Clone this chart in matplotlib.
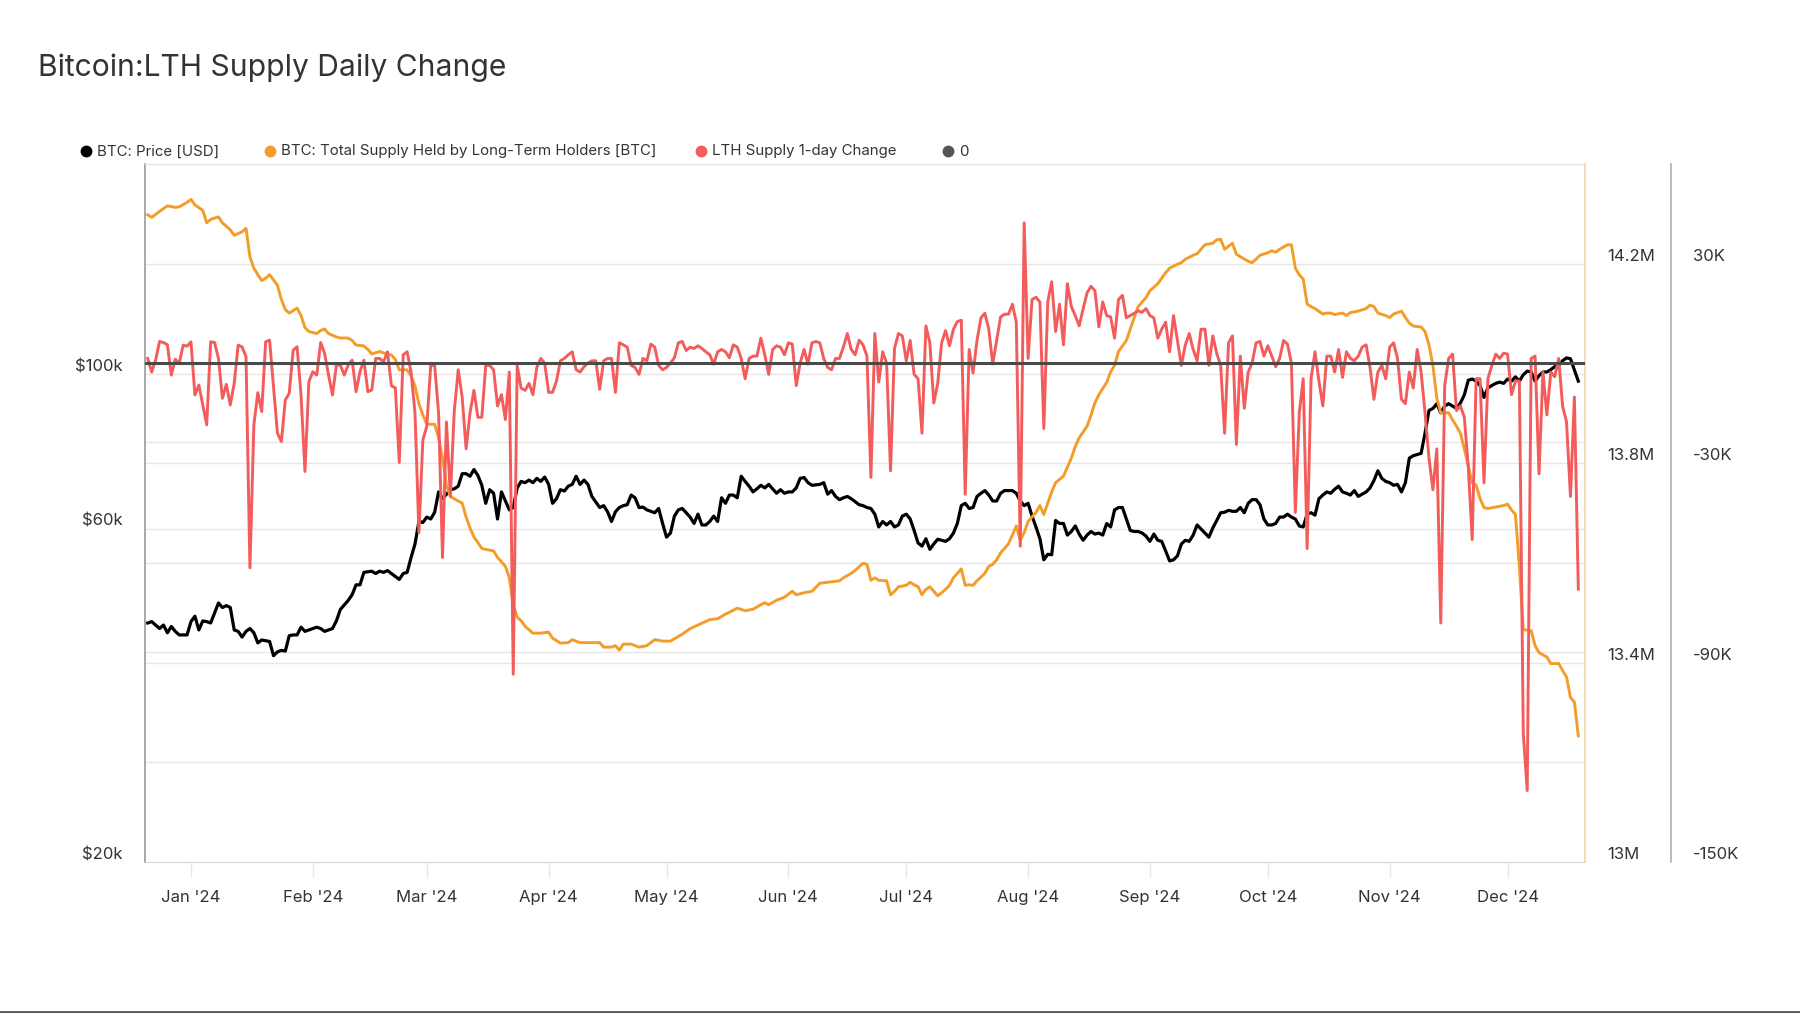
import numpy as np
import pandas as pd
import matplotlib
matplotlib.use("Agg")
import matplotlib.pyplot as plt
from matplotlib.lines import Line2D
from matplotlib import transforms
from matplotlib.ticker import FixedLocator, NullLocator

plt.rcParams['font.family'] = ['Inter', 'DejaVu Sans']

# ---------------- data ----------------
BASE = pd.Timestamp('2024-01-01')

title = "Bitcoin:LTH Supply Daily Change"
legend_labels = ["BTC: Price [USD]", "BTC: Total Supply Held by Long-Term Holders [BTC]",
                 "LTH Supply 1-day Change", "0"]

# BTC price (USD thousands), day offsets from 2024-01-01
price_day = [-11, -10, -9, -8, -7, -6, -5, -4, -3, -2, -1, 0, 1, 2, 3, 4, 5, 7, 8, 9, 10, 11, 12, 13, 14, 15,
             16, 17, 18, 20, 21, 22, 23, 24, 25, 26, 27, 28, 29, 31, 32, 33, 34, 36, 37, 38, 40, 41, 42, 43,
             44, 46, 47, 48, 49, 50, 51, 53, 54, 55, 56, 57, 58, 59, 60, 61, 62, 63, 64, 65, 66, 67, 68, 69,
             70, 71, 72, 73, 74, 75, 76, 77, 78, 79, 80, 81, 82, 83, 84, 85, 86, 87, 88, 89, 90, 91, 92, 93,
             94, 95, 96, 97, 98, 99, 100, 101, 102, 104, 105, 106, 107, 108, 109, 110, 111, 112, 113, 114,
             115, 116, 117, 118, 119, 120, 121, 122, 123, 124, 125, 126, 127, 128, 129, 130, 131, 132, 133,
             134, 135, 136, 137, 138, 139, 140, 141, 142, 143, 144, 145, 146, 147, 148, 149, 150, 151, 152,
             153, 154, 155, 156, 157, 158, 160, 161, 162, 163, 164, 165, 166, 167, 168, 170, 171, 172, 173,
             174, 175, 176, 177, 178, 179, 180, 181, 182, 183, 184, 185, 186, 187, 188, 189, 190, 191, 192,
             193, 194, 195, 196, 197, 198, 199, 200, 201, 202, 203, 204, 205, 206, 207, 208, 209, 210, 211,
             212, 213, 214, 215, 216, 217, 218, 219, 220, 221, 222, 223, 224, 225, 226, 227, 228, 229, 230,
             231, 232, 233, 234, 235, 236, 237, 238, 239, 240, 241, 242, 243, 244, 245, 246, 247, 248, 249,
             250, 251, 252, 253, 254, 255, 256, 257, 258, 259, 260, 261, 262, 263, 264, 265, 266, 267, 268,
             269, 270, 271, 272, 273, 274, 275, 276, 277, 278, 279, 280, 281, 282, 283, 284, 285, 286, 287,
             288, 289, 290, 291, 292, 293, 294, 295, 296, 297, 299, 300, 301, 302, 303, 304, 305, 306, 307,
             308, 309, 310, 311, 312, 313, 314, 315, 316, 317, 318, 319, 320, 321, 322, 323, 324, 325, 326,
             327, 328, 329, 330, 331, 332, 333, 334, 335, 336, 337, 338, 339, 340, 341, 342, 343, 344, 345,
             346, 347, 348, 349, 350, 351, 352, 353]
price_k = [44.0, 44.2, 43.7, 43.2, 43.7, 42.6, 43.5, 42.8, 42.3, 42.3, 42.3, 44.2, 45.0, 43.0, 44.3, 44.2, 44.0,
           47.0, 46.3, 46.6, 46.3, 43.0, 42.8, 42.0, 42.8, 43.2, 42.6, 41.2, 41.6, 41.4, 39.5, 40.0, 40.2,
           40.1, 42.2, 42.3, 42.3, 43.4, 42.8, 43.2, 43.4, 43.2, 42.8, 43.2, 44.3, 46.0, 47.4, 48.3, 49.9,
           49.9, 52.0, 52.2, 51.8, 52.2, 52.0, 52.3, 51.8, 50.8, 51.8, 52.0, 54.6, 57.1, 61.5, 61.3, 62.4,
           62.0, 63.4, 67.8, 66.3, 67.3, 68.3, 68.5, 69.1, 72.0, 72.0, 71.4, 73.0, 71.6, 69.3, 65.3, 68.3,
           67.5, 62.0, 67.8, 65.8, 63.9, 64.4, 68.7, 70.2, 69.9, 70.5, 69.9, 70.9, 70.2, 71.2, 69.5, 65.3,
           66.3, 68.3, 68.0, 69.1, 69.5, 71.4, 69.5, 70.5, 69.5, 66.8, 64.4, 64.8, 63.5, 61.5, 63.5, 64.4,
           64.8, 65.0, 67.1, 66.5, 64.4, 64.5, 63.9, 63.6, 63.3, 64.2, 61.1, 58.4, 59.2, 62.6, 63.9, 64.2,
           63.3, 62.4, 61.1, 63.0, 60.8, 60.8, 61.5, 62.6, 61.5, 66.5, 65.3, 67.1, 67.1, 66.5, 71.4, 70.2,
           69.1, 67.8, 68.5, 69.3, 68.7, 69.5, 68.5, 67.5, 68.3, 67.5, 67.8, 67.8, 68.7, 70.9, 71.1, 69.9,
           69.3, 69.5, 69.9, 67.3, 68.1, 66.8, 66.1, 66.5, 66.8, 66.3, 65.0, 64.8, 64.4, 64.2, 63.0, 60.4,
           61.5, 60.8, 61.5, 60.4, 60.8, 62.6, 63.0, 62.0, 59.7, 57.3, 56.7, 58.1, 56.1, 57.1, 58.0, 57.8,
           57.6, 58.1, 59.2, 61.1, 64.8, 65.3, 64.2, 64.4, 66.8, 67.5, 68.1, 67.1, 65.8, 65.8, 67.5, 68.1,
           68.1, 68.1, 67.5, 65.8, 64.8, 65.3, 62.6, 60.4, 58.1, 54.2, 55.2, 55.1, 61.7, 61.1, 61.1, 58.8,
           59.5, 60.6, 59.0, 57.8, 58.8, 59.5, 59.0, 59.2, 58.8, 61.1, 60.4, 63.9, 64.4, 64.4, 62.0, 59.7,
           59.5, 59.5, 59.2, 58.6, 57.6, 59.0, 57.8, 57.6, 55.8, 54.0, 54.2, 54.9, 57.1, 57.8, 57.6, 58.8,
           60.8, 60.0, 59.2, 58.4, 60.2, 61.7, 63.3, 63.4, 63.8, 63.6, 63.6, 64.4, 63.3, 65.3, 66.1, 66.1,
           65.0, 62.0, 60.8, 60.8, 61.1, 62.4, 62.4, 63.0, 62.4, 62.0, 60.6, 60.4, 63.0, 63.3, 62.8, 66.3,
           67.1, 67.8, 67.5, 68.4, 69.1, 67.8, 67.5, 67.1, 68.1, 66.8, 67.8, 68.7, 70.4, 72.7, 70.9, 70.2,
           69.9, 69.3, 69.5, 67.8, 69.9, 75.8, 76.4, 76.7, 77.0, 82.3, 88.7, 89.3, 90.7, 88.0, 90.0, 90.7,
           90.0, 89.3, 90.9, 93.4, 98.0, 98.4, 97.7, 96.3, 92.6, 95.6, 96.3, 97.0, 97.4, 97.0, 98.4, 97.7,
           99.1, 97.7, 99.8, 101.0, 100.7, 97.7, 99.5, 100.7, 100.7, 101.5, 102.5, 102.9, 104.5, 105.5,
           105.2, 101.4, 97.7]

# LTH supply (million BTC)
supply_day = [-11, -10, -8, -6, -4, -3, -1, 0, 1, 3, 4, 5, 7, 8, 10, 11, 13, 14, 15, 16, 17, 18, 19, 20, 22,
              23, 24, 25, 27, 28, 29, 30, 32, 33, 34, 35, 37, 38, 40, 41, 42, 44, 45, 46, 48, 49, 51, 52, 53,
              55, 56, 57, 58, 59, 60, 62, 63, 64, 65, 66, 68, 69, 70, 71, 72, 74, 75, 77, 78, 80, 81, 82, 83,
              84, 85, 87, 89, 91, 92, 94, 96, 97, 99, 100, 102, 104, 105, 107, 108, 109, 110, 112, 114, 116,
              118, 120, 122, 125, 127, 130, 132, 134, 136, 139, 141, 143, 145, 146, 147, 149, 151, 153, 154,
              156, 158, 160, 162, 165, 166, 168, 169, 171, 172, 173, 174, 175, 177, 178, 179, 180, 182, 183,
              184, 185, 186, 187, 188, 189, 190, 191, 192, 193, 194, 196, 197, 198, 199, 200, 202, 203, 204,
              205, 206, 208, 209, 210, 211, 212, 213, 215, 216, 217, 218, 219, 220, 222, 223, 224, 225, 226,
              228, 229, 230, 231, 232, 233, 234, 235, 236, 238, 239, 240, 241, 243, 244, 246, 247, 248, 249,
              251, 252, 253, 255, 256, 257, 258, 260, 261, 262, 263, 264, 265, 266, 267, 269, 270, 271, 272,
              274, 275, 276, 277, 279, 280, 281, 282, 283, 284, 285, 286, 288, 289, 290, 291, 293, 294, 295,
              297, 299, 300, 301, 302, 304, 305, 306, 308, 309, 310, 311, 313, 314, 315, 316, 317, 318, 320,
              321, 322, 323, 324, 326, 327, 328, 329, 330, 332, 334, 335, 336, 337, 338, 339, 341, 342, 343,
              345, 346, 348, 349, 350, 351, 352, 353]
supply_m = [14.298, 14.293, 14.305, 14.316, 14.313, 14.314, 14.323, 14.329, 14.318, 14.307, 14.282, 14.289,
            14.294, 14.282, 14.268, 14.257, 14.264, 14.271, 14.214, 14.191, 14.178, 14.166, 14.171, 14.178,
            14.157, 14.128, 14.108, 14.101, 14.111, 14.096, 14.072, 14.064, 14.060, 14.066, 14.069, 14.060,
            14.053, 14.051, 14.051, 14.046, 14.037, 14.035, 14.028, 14.019, 14.024, 14.021, 14.017, 14.008,
            13.987, 13.987, 13.975, 13.955, 13.919, 13.897, 13.878, 13.878, 13.851, 13.810, 13.756, 13.733,
            13.724, 13.720, 13.692, 13.670, 13.652, 13.629, 13.627, 13.624, 13.611, 13.593, 13.570, 13.516,
            13.491, 13.484, 13.473, 13.459, 13.459, 13.461, 13.449, 13.439, 13.440, 13.446, 13.440, 13.440,
            13.440, 13.440, 13.431, 13.431, 13.434, 13.425, 13.437, 13.437, 13.431, 13.434, 13.446, 13.443,
            13.443, 13.457, 13.468, 13.479, 13.486, 13.488, 13.497, 13.509, 13.504, 13.507, 13.516, 13.520,
            13.516, 13.525, 13.531, 13.543, 13.536, 13.540, 13.543, 13.559, 13.561, 13.564, 13.570, 13.579,
            13.585, 13.599, 13.597, 13.565, 13.570, 13.565, 13.564, 13.536, 13.543, 13.552, 13.555, 13.561,
            13.556, 13.552, 13.536, 13.547, 13.552, 13.543, 13.534, 13.540, 13.547, 13.555, 13.570, 13.588,
            13.555, 13.556, 13.555, 13.564, 13.579, 13.593, 13.597, 13.606, 13.620, 13.638, 13.656, 13.674,
            13.645, 13.661, 13.683, 13.701, 13.715, 13.697, 13.720, 13.742, 13.761, 13.774, 13.792, 13.810,
            13.833, 13.851, 13.874, 13.896, 13.921, 13.937, 13.950, 13.962, 13.983, 13.996, 14.024, 14.046,
            14.069, 14.092, 14.114, 14.132, 14.146, 14.160, 14.171, 14.182, 14.191, 14.199, 14.202, 14.209,
            14.217, 14.220, 14.229, 14.238, 14.241, 14.248, 14.249, 14.229, 14.235, 14.241, 14.219, 14.214,
            14.205, 14.202, 14.209, 14.217, 14.222, 14.226, 14.223, 14.229, 14.238, 14.238, 14.191, 14.178,
            14.169, 14.119, 14.114, 14.110, 14.099, 14.101, 14.101, 14.098, 14.101, 14.096, 14.102, 14.105,
            14.110, 14.117, 14.114, 14.101, 14.096, 14.092, 14.099, 14.105, 14.092, 14.081, 14.075, 14.073,
            14.064, 14.037, 13.996, 13.930, 13.901, 13.901, 13.887, 13.874, 13.860, 13.829, 13.760, 13.756,
            13.729, 13.711, 13.709, 13.712, 13.715, 13.718, 13.706, 13.697, 13.593, 13.466, 13.464, 13.434,
            13.420, 13.411, 13.398, 13.398, 13.384, 13.371, 13.330, 13.321, 13.253]

# LTH supply 1-day change (thousand BTC), daily from 2023-12-21
change_start = '2023-12-21'
change_k = [1.5, -2.6, 1.0, 6.6, 6.3, 5.6, -3.5, 1.3, 0.0, 5.5, 5.2,
            6.5, -9.5, -6.5, -12.5, -18.5, 6.5, 6.3, 1.5, -10.5, -6.3,
            -12.5, -6.0, 5.5, 5.0, 2.0, -61.5, -18.5, -8.8, -14.5, 6.5,
            7.0, -7.0, -21.0, -23.5, -11.0, -9.0, 4.0, 5.0, -9.5, -32.5,
            -5.5, -2.5, -3.5, 6.3, 3.0, -3.5, -9.5, -0.5, -0.5, -3.5,
            -0.5, 1.0, -8.5, -2.5, 1.0, -8.5, -8.0, 1.5, 1.5, 0.5,
            3.5, -6.7, -7.4, -29.8, 2.6, 3.5, -2.6, -14.9, -50.9, -23.0,
            -18.9, -0.6, -0.6, -14.9, -58.4, -17.6, -40.0, -14.2, -1.9, -10.1,
            -25.7, -14.9, -8.1, -16.2, -16.2, -0.6, -0.6, -1.9, -12.8, -9.4,
            -16.9, -2.6, -93.5, -0.6, -7.4, -8.1, -6.0, -9.4, -1.2, 1.5,
            0.1, -8.7, -8.7, -5.3, 0.8, 1.5, 2.6, 3.5, -1.9, -2.6,
            -1.0, 0.1, 0.8, 0.8, -7.8, 0.8, 1.5, 1.5, -8.7, 6.2,
            5.6, 4.9, -0.6, -1.2, -3.3, 1.5, 0.8, 5.8, 4.9, -0.6,
            -1.9, -1.2, 0.1, 1.7, 6.2, 6.6, 3.9, 4.9, 4.5, 5.3,
            4.5, 3.5, 2.6, -0.2, 3.5, 4.2, 3.5, 1.7, 5.6, 4.9,
            1.5, -4.6, 1.5, 2.2, 2.2, 7.6, 2.6, -3.3, 4.2, 5.3,
            4.9, 2.6, 6.2, 5.8, -6.7, 0.1, 4.2, -0.2, 6.2, 6.6,
            6.2, 1.5, -1.2, -1.9, 1.5, 1.5, 4.9, 9.0, 4.2, 2.6,
            7.0, 5.6, 2.2, -34.3, 9.0, -5.6, 3.5, 0.1, -32.3, 4.5,
            9.0, 8.3, 0.8, 6.9, -3.3, -4.6, -21.0, 11.3, 6.2, -11.9,
            -6.0, 6.2, 9.9, 5.3, 10.3, 12.6, 13.0, -39.4, 4.2, -2.9,
            6.9, 13.7, 15.1, 10.3, -0.2, 6.9, 14.0, 14.8, 14.8, 17.8,
            12.4, -55.0, 42.3, 1.5, 19.2, 19.9, 18.5, -19.6, 18.5, 24.6,
            9.6, 17.8, 5.6, 24.0, 17.1, 14.4, 11.3, 16.4, 21.2, 23.2,
            21.9, 11.0, 18.5, 14.4, 14.0, 7.6, 19.2, 20.5, 13.7, 14.4,
            15.1, 15.8, 15.4, 16.5, 14.4, 13.7, 7.6, 10.3, 12.4, 3.5,
            14.4, 6.9, -0.6, 5.6, 9.0, 4.2, 0.8, 10.3, 10.3, -0.6,
            8.3, 3.0, -0.6, -21.0, 6.2, 8.3, -24.4, 2.2, -13.5, -2.6,
            0.1, 6.2, 6.6, 2.2, 5.3, 2.2, -1.0, 1.5, 6.9, 5.8,
            0.1, -44.8, -14.9, -4.6, -55.7, -4.6, 3.5, -5.3, -12.8, 2.2,
            2.2, -2.6, 4.2, -4.2, 3.5, 1.5, 0.8, 2.2, 4.9, 5.6,
            -1.2, -10.8, -2.6, -0.6, -4.6, 4.9, 6.2, 1.5, -10.8, -12.1,
            -2.6, -7.4, 4.2, -2.6, -14.9, -28.5, -38.0, -25.7, -78.1, -6.7,
            1.5, 2.8, -14.2, -12.8, -16.2, -31.2, -53.0, -4.6, -4.6, -35.9,
            -4.6, -0.6, 2.8, 1.5, 3.1, 2.8, -9.4, -5.3, -5.3, -111.5,
            -128.5, 1.5, 2.2, -33.2, -2.6, -15.5, -2.6, -4.0, 1.5, -12.8,
            -17.6, -40.0, -10.1, -67.9]

zero_level = 0.0

# axis ticks
price_ticks = [20000, 60000, 100000]
price_tick_labels = ['$20k', '$60k', '$100k']
price_grid = [40000, 60000, 80000, 100000]
supply_ticks = [13.0, 13.4, 13.8, 14.2]
supply_tick_labels = ['13M', '13.4M', '13.8M', '14.2M']
supply_grid = [13.2, 13.4, 13.6, 13.8, 14.0, 14.2]
change_ticks = [-150, -90, -30, 30]
change_tick_labels = ['-150K', '-90K', '-30K', '30K']
month_ticks = pd.date_range('2024-01-01', '2024-12-01', freq='MS')
month_labels = [d.strftime("%b '%y") for d in month_ticks]

# ---------------- styling ----------------
C_PRICE = '#000000'
C_SUPPLY = '#f39c28'
C_CHANGE = '#f45b5b'
C_ZERO = '#4a4a4a'
C_TEXT = '#333333'
C_GRID = '#e6e6e6'

W, H = 1800, 1013
fig = plt.figure(figsize=(W / 100, H / 100), dpi=100)
fig.patch.set_facecolor('white')

L, R, T, B = 145, 1585, 164, 862
ax = fig.add_axes([L / W, 1 - B / H, (R - L) / W, (B - T) / H])
ax_s = ax.twinx()
ax_c = ax.twinx()

price_dates = BASE + pd.to_timedelta(price_day, unit='D')
supply_dates = BASE + pd.to_timedelta(supply_day, unit='D')
change_dates = pd.date_range(change_start, periods=len(change_k), freq='D')

ax.set_yscale('log')
ax.set_ylim(20000, 200000)
ax_s.set_ylim(13.0, 14.4)
ax_c.set_ylim(-150, 60)
x0 = BASE - pd.Timedelta(days=11.7)
x1 = BASE + pd.Timedelta(days=354.7)
ax.set_xlim(x0, x1)

# gridlines (all drawn in the base axes, below the series)
for v in price_grid:
    ax.plot([0, 1], [v, v], transform=transforms.blended_transform_factory(ax.transAxes, ax.transData),
            color=C_GRID, lw=1, zorder=0.5, solid_capstyle='butt')
for v in supply_grid:
    ax.plot([0, 1], [v, v], transform=transforms.blended_transform_factory(ax.transAxes, ax_s.transData),
            color=C_GRID, lw=1, zorder=0.5, solid_capstyle='butt')

ax.plot(price_dates, np.array(price_k) * 1000, color=C_PRICE, lw=2.3, zorder=3, solid_joinstyle='round')
ax_s.plot(supply_dates, supply_m, color=C_SUPPLY, lw=2.1, zorder=3, solid_joinstyle='round')
ax_c.plot(change_dates, change_k, color=C_CHANGE, lw=2.1, zorder=3, solid_joinstyle='round')
ax_c.axhline(zero_level, color=C_ZERO, lw=2.2, zorder=4)

# left (price) axis
ax.yaxis.set_major_locator(FixedLocator(price_ticks))
ax.yaxis.set_minor_locator(NullLocator())
ax.set_yticklabels(price_tick_labels)
ax.tick_params(axis='y', which='both', length=0, pad=16, labelsize=12, labelcolor=C_TEXT)

# supply axis
ax_s.set_yticks(supply_ticks)
ax_s.set_yticklabels(supply_tick_labels)
ax_s.tick_params(axis='y', length=0, pad=16, labelsize=12, labelcolor=C_TEXT)

# change axis
ax_c.set_yticks(change_ticks)
ax_c.set_yticklabels(change_tick_labels)
ax_c.tick_params(axis='y', length=0, pad=16, labelsize=12, labelcolor=C_TEXT)
ax_c.spines['right'].set_position(('outward', 62))

for a in (ax, ax_s, ax_c):
    for t in a.get_yticklabels():
        t.set_verticalalignment('bottom')

# x axis
ax.set_xticks(month_ticks)
ax.set_xticklabels(month_labels)
ax.tick_params(axis='x', length=11, width=1, color=C_GRID, pad=9.3, labelsize=12, labelcolor=C_TEXT)

# spines
for a in (ax_s, ax_c):
    for s in ('top', 'bottom', 'left'):
        a.spines[s].set_visible(False)
ax.spines['right'].set_visible(False)
ax.spines['left'].set_color('#999999')
ax.spines['left'].set_linewidth(1.2)
ax.spines['top'].set_color('#e3e3e3')
ax.spines['bottom'].set_color('#d6d6d6')
ax_s.spines['right'].set_color('#f7d3a6')
ax_s.spines['right'].set_linewidth(1.2)
ax_c.spines['right'].set_color('#b0b0b0')
ax_c.spines['right'].set_linewidth(1.2)
ax.set_facecolor('white')

# title
fig.text(38 / W, 1 - 67.5 / H, title, fontsize=21.6, color=C_TEXT, va='center', ha='left')

# legend (manual)
leg_y = 1 - 151.5 / H
leg_colors = [C_PRICE, C_SUPPLY, C_CHANGE, '#555555']
leg_x = [86, 270, 701, 948]
for lab, col, xm in zip(legend_labels, leg_colors, leg_x):
    fig.add_artist(Line2D([xm / W], [leg_y], marker='o', markersize=7.5, color=col, linestyle='none',
                          transform=fig.transFigure))
    fig.text((xm + 11) / W, leg_y, lab, fontsize=10.8, color=C_TEXT, va='center', ha='left')

# bottom edge line
fig.add_artist(Line2D([0, 1], [1.5 / H, 1.5 / H], color='#555555', lw=2, transform=fig.transFigure))

fig.savefig('out.png', dpi=100, facecolor='white')
